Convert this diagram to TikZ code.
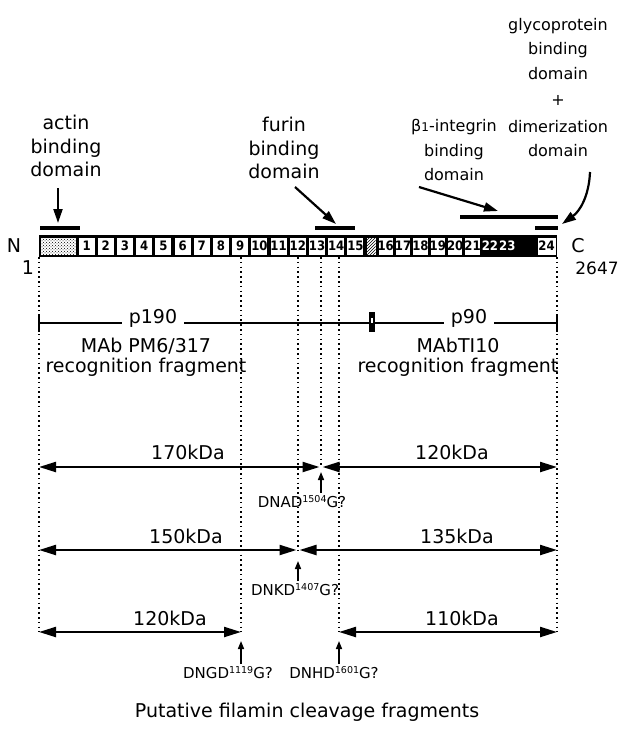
\documentclass[tikz,border=0pt]{standalone}
\usepackage{fontspec}
\setmainfont{DejaVu Sans}
\newfontfamily\NarrowFont{DejaVu Sans Condensed}
\usetikzlibrary{arrows.meta, patterns, positioning}

\newcommand{\LabelFont}{\fontsize{19pt}{23.5pt}\selectfont}
\newcommand{\TightFont}{\fontsize{16pt}{24.5pt}\selectfont}
\newcommand{\SiteFont}{\fontsize{15pt}{17pt}\selectfont}
\newcommand{\BoxFont}{\NarrowFont\bfseries\fontsize{13pt}{13pt}\selectfont}
\newcommand{\Site}[3]{#1\raisebox{0.55ex}{\fontsize{9.5pt}{10pt}\selectfont #2}#3}

\begin{document}
\begin{tikzpicture}[x=1pt, y=-1pt,
    domainlabel/.style={font=\LabelFont, align=center, inner sep=0pt},
    pointer/.style={line width=2.2pt, -{Triangle[length=14pt,width=9pt]}},
    cutline/.style={line width=1.6pt, dash pattern=on 1.6pt off 3.2pt},
    sizearrow/.style={line width=2.2pt, {Triangle[length=17pt,width=10pt]}-{Triangle[length=17pt,width=10pt]}},
    siteup/.style={line width=1.5pt, -{Triangle[length=8pt,width=6pt]}},
    kda/.style={font=\LabelFont, anchor=base, inner sep=0pt},
    site/.style={font=\SiteFont, anchor=base, inner sep=0pt},
    boxnum/.style={font=\BoxFont, inner sep=0pt},
    domainbar/.style={line width=4.5pt},
  ]
  \useasboundingbox (0,0) rectangle (619,730);

  % filamin rod: actin head, 24 repeats, hinge
  \fill (39,235) rectangle (557,257);
  \fill[white] (41,237.5) rectangle (75.5,254.5);
  \fill[pattern=crosshatch dots] (41,237.5) rectangle (75.5,254.5);
  \foreach \i in {1,...,15}{
    \pgfmathsetmacro\xl{77+(\i-1)*19.2}
    \fill[white] (\xl+1.6,237.5) rectangle (\xl+17.6,254.5);
    \node[boxnum] (box\i) at (\xl+9.6,246) {\i};
  }
  \fill[white] (366.5,237.5) rectangle (375.5,254.5);
  \fill[pattern=north east lines] (366.5,237.5) rectangle (375.5,254.5);
  \foreach \i in {16,...,21}{
    \pgfmathsetmacro\xl{377+(\i-16)*17.375}
    \fill[white] (\xl+1.5,237.5) rectangle (\xl+15.9,254.5);
    \node[boxnum] (box\i) at (\xl+8.7,246) {\i};
  }
  \foreach \i in {22,23}{
    \pgfmathsetmacro\xl{377+(\i-16)*17.375}
    \node[boxnum, text=white] (box\i) at (\xl+8.7,246) {\i};
  }
  \fill[white] (538,237.5) rectangle (555.5,254.5);
  \node[boxnum] (box24) at (546.5,246) {24};
  \node[kda] (nterm) at (14,252) {N};
  \node[kda] (cterm) at (578,252) {C};
  \node[kda] (first) at (28,274) {1};
  \node[kda, font={\fontsize{17pt}{17pt}\selectfont}] (last) at (597,274) {2647};

  % binding domains above the rod
  \draw[domainbar] (40,228) -- (80,228);
  \draw[domainbar] (315,228) -- (355,228);
  \draw[domainbar] (460,217) -- (558,217);
  \draw[domainbar] (535,228) -- (558,228);
  \coordinate (actintip) at (58,223);
  \coordinate (furintip) at (336,224);
  \coordinate (betatip) at (498,211);
  \coordinate (dimertip) at (562,224);
  \node[domainlabel, anchor=south] (actin) at (66,177) {actin\\binding\\domain};
  \node[domainlabel, anchor=south] (furin) at (284,179) {furin\\binding\\domain};
  \node[domainlabel, font=\TightFont, anchor=south] (beta) at (454,181)
    {β{\fontsize{12pt}{12pt}\selectfont 1}-integrin\\binding\\domain};
  \node[domainlabel, font=\TightFont, anchor=south] (glyco) at (558,157)
    {glycoprotein\\binding\\domain\\[2pt]+\\[2pt]dimerization\\domain};
  \draw[pointer] ([shift={(-8pt,-11pt)}]actin.south) -- (actintip);
  \draw[pointer] ([shift={(11pt,-8pt)}]furin.south) -- (furintip);
  \draw[pointer] ([shift={(8pt,-6pt)}]beta.south west) -- (betatip);
  \draw[pointer] ([shift={(32pt,-15pt)}]glyco.south) .. controls (589,196) and (580,211) .. (dimertip);

  % cleavage positions carried down from the rod
  \coordinate (cN) at (39,257);
  \coordinate (c9) at (241,257);
  \coordinate (c12) at (298,257);
  \coordinate (c13) at (321,257);
  \coordinate (c14) at (339,257);
  \coordinate (cC) at (557,257);
  \coordinate (frag) at (0,323);
  \coordinate (rowa) at (0,467);
  \coordinate (rowb) at (0,550);
  \coordinate (rowc) at (0,632);
  \draw[cutline] (cN) -- (cN |- rowc);
  \draw[cutline] (c9) -- (c9 |- rowc);
  \draw[cutline] (c12) -- (c12 |- rowb);
  \draw[cutline] (c13) -- (c13 |- rowa);
  \draw[cutline] (c14) -- (c14 |- rowc);
  \draw[cutline] (cC) -- (cC |- rowc);

  % p190 / p90 halves
  \draw[line width=2pt] (cN |- frag) -- (cC |- frag);
  \draw[line width=2pt] (39,314) -- (39,332);
  \draw[line width=2pt] (557,314) -- (557,332);
  \fill (369,312) rectangle (375,332);
  \fill[white] (371,318) rectangle (373,323);
  \node[kda, fill=white, inner xsep=7pt, inner ysep=4pt] (p190) at (153,323) {p190};
  \node[kda, fill=white, inner xsep=7pt, inner ysep=4pt] (p90) at (469,323) {p90};
  \node[font={\fontsize{19pt}{20pt}\selectfont}, align=center, anchor=north, inner sep=0pt] (mableft) at (146,338)
    {MAb PM6/317\\recognition fragment};
  \node[font={\fontsize{19pt}{20pt}\selectfont}, align=center, anchor=north, inner sep=0pt] (mabright) at (458,338)
    {MAbTI10\\recognition fragment};

  % putative fragments
  \draw[sizearrow, shorten >=1.5pt] (cN |- rowa) -- (c13 |- rowa);
  \draw[sizearrow, shorten <=1.5pt] (c13 |- rowa) -- (cC |- rowa);
  \draw[sizearrow, shorten >=1.5pt] (cN |- rowb) -- (c12 |- rowb);
  \draw[sizearrow, shorten <=1.5pt] (c12 |- rowb) -- (cC |- rowb);
  \draw[sizearrow] (cN |- rowc) -- (c9 |- rowc);
  \draw[sizearrow] (c14 |- rowc) -- (cC |- rowc);
  \node[kda] (kda170) at (188,459) {170kDa};
  \node[kda] (kda120a) at (452,459) {120kDa};
  \node[kda] (kda150) at (186,543) {150kDa};
  \node[kda] (kda135) at (457,543) {135kDa};
  \node[kda] (kda120b) at (170,625) {120kDa};
  \node[kda] (kda110) at (462,625) {110kDa};

  % candidate cleavage sites
  \node[site] (sitea) at (302,507) {\Site{DNAD}{1504}{G?}};
  \node[site] (siteb) at (295,595) {\Site{DNKD}{1407}{G?}};
  \node[site] (sitec) at (228,678) {\Site{DNGD}{1119}{G?}};
  \node[site] (sited) at (334,678) {\Site{DNHD}{1601}{G?}};
  \draw[siteup, shorten >=5pt] ([yshift=2pt]sitea.north -| c13) -- (c13 |- rowa);
  \draw[siteup, shorten >=11pt] ([yshift=2pt]siteb.north -| c12) -- (c12 |- rowb);
  \draw[siteup, shorten >=9pt] ([yshift=2pt]sitec.north -| c9) -- (c9 |- rowc);
  \draw[siteup, shorten >=9pt] ([yshift=2pt]sited.north -| c14) -- (c14 |- rowc);

  \node[kda] (caption) at (307,717) {Putative filamin cleavage fragments};
\end{tikzpicture}
\end{document}
